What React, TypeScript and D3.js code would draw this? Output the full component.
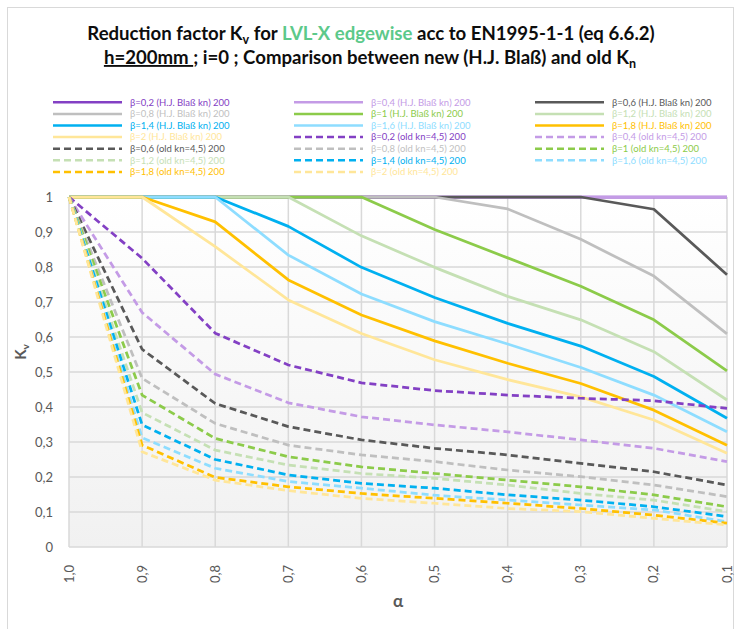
import React from "react";
import * as d3 from "d3";

const alphaLabels = ["1,0", "0,9", "0,8", "0,7", "0,6", "0,5", "0,4", "0,3", "0,2", "0,1"];
const betaLabels = ["0,2", "0,4", "0,6", "0,8", "1", "1,2", "1,4", "1,6", "1,8", "2"];
const yTicks = [0, 0.1, 0.2, 0.3, 0.4, 0.5, 0.6, 0.7, 0.8, 0.9, 1];

// H.J. Blaß kn (solid)
const newB02 = [1, 1, 1, 1, 1, 1, 1, 1, 1, 1];
const newB04 = [1, 1, 1, 1, 1, 1, 1, 1, 1, 1];
const newB06 = [1, 1, 1, 1, 1, 1, 1, 1, 0.965, 0.778];
const newB08 = [1, 1, 1, 1, 1, 1, 0.966, 0.879, 0.774, 0.609];
const newB10 = [1, 1, 1, 1, 1, 0.907, 0.826, 0.745, 0.649, 0.503];
const newB12 = [1, 1, 1, 1, 0.889, 0.799, 0.716, 0.649, 0.558, 0.42];
const newB14 = [1, 1, 1, 0.916, 0.799, 0.713, 0.639, 0.574, 0.487, 0.368];
const newB16 = [1, 1, 1, 0.834, 0.723, 0.644, 0.58, 0.513, 0.434, 0.329];
const newB18 = [1, 1, 0.929, 0.763, 0.663, 0.589, 0.525, 0.467, 0.391, 0.291];
const newB20 = [1, 1, 0.858, 0.706, 0.61, 0.535, 0.478, 0.429, 0.363, 0.268];

// old kn = 4,5 (dashed)
const oldB02 = [1, 0.825, 0.611, 0.52, 0.469, 0.447, 0.434, 0.425, 0.418, 0.396];
const oldB04 = [1, 0.67, 0.494, 0.412, 0.372, 0.349, 0.329, 0.306, 0.282, 0.244];
const oldB06 = [1, 0.565, 0.41, 0.344, 0.306, 0.282, 0.263, 0.239, 0.215, 0.177];
const oldB08 = [1, 0.482, 0.353, 0.291, 0.263, 0.244, 0.22, 0.201, 0.177, 0.144];
const oldB10 = [1, 0.434, 0.31, 0.258, 0.229, 0.21, 0.191, 0.172, 0.149, 0.115];
const oldB12 = [1, 0.384, 0.277, 0.234, 0.21, 0.196, 0.177, 0.153, 0.134, 0.101];
const oldB14 = [1, 0.349, 0.25, 0.206, 0.182, 0.168, 0.149, 0.134, 0.115, 0.087];
const oldB16 = [1, 0.312, 0.225, 0.187, 0.168, 0.148, 0.134, 0.12, 0.106, 0.072];
const oldB18 = [1, 0.291, 0.199, 0.172, 0.153, 0.139, 0.125, 0.11, 0.091, 0.068];
const oldB20 = [1, 0.272, 0.191, 0.161, 0.139, 0.125, 0.11, 0.101, 0.082, 0.063];

const newSeries = [newB02, newB04, newB06, newB08, newB10, newB12, newB14, newB16, newB18, newB20];
const oldSeries = [oldB02, oldB04, oldB06, oldB08, oldB10, oldB12, oldB14, oldB16, oldB18, oldB20];

const palette = ["#8340C4", "#C49BE6", "#595959", "#BFBFBF", "#8CCB4A", "#C5E0B4", "#00B0F0", "#8EDDFF", "#FFC000", "#FFE699"];

const FONT = "Lato, 'Open Sans', sans-serif";

export default function App() {
  const W = 736, H = 629;
  const left = 69, right = 727, top = 197, bottom = 547;
  const x = d3.scalePoint<number>().domain(d3.range(alphaLabels.length)).range([left, right]);
  const y = d3.scaleLinear().domain([0, 1]).range([bottom, top]);
  const lineGen = d3.line<number>().x((_, i) => x(i) as number).y((d) => y(d));

  const all = [
    ...newSeries.map((s, i) => ({ values: s, color: palette[i], dashed: false, label: `β=${betaLabels[i]} (H.J. Blaß kn) 200` })),
    ...oldSeries.map((s, i) => ({ values: s, color: palette[i], dashed: true, label: `β=${betaLabels[i]} (old kn=4,5) 200` })),
  ];

  const legendCols = [53, 294, 535];
  const legendRow0 = 102.3, legendRowH = 11.6;

  return (
    <svg width={W} height={H} style={{ position: "absolute", left: 0, top: 0, background: "#fff" }} fontFamily={FONT}>
      <defs>
        <linearGradient id="bg" x1="0" y1="0" x2="0" y2="1">
          <stop offset="0" stopColor="#ffffff" />
          <stop offset="1" stopColor="#f1f1f1" />
        </linearGradient>
      </defs>
      <rect x={7.5} y={7.5} width={726} height={640} fill="#fff" stroke="#d9d9d9" strokeWidth={1} />

      {/* Title */}
      <text x={371} y={39.5} textAnchor="middle" fontWeight="bold" fontSize={18.6} fill="#0d0d0d">
        Reduction factor K<tspan dy={4} fontSize={12.5}>v</tspan>
        <tspan dy={-4}> for </tspan>
        <tspan fill="#5CC98A">LVL-X edgewise</tspan>
        <tspan> acc to EN1995-1-1 (eq 6.6.2)</tspan>
      </text>
      <text x={370} y={64} textAnchor="middle" fontWeight="bold" fontSize={18.6} fill="#0d0d0d">
        <tspan textDecoration="underline">h=200mm </tspan>
        <tspan>; i=0 ; Comparison between new (H.J. Blaß) and old K</tspan>
        <tspan dy={4} fontSize={12.5}>n</tspan>
      </text>

      {/* Legend */}
      {all.map((s, i) => {
        const col = i % 3;
        const row = Math.floor(i / 3);
        const lx = legendCols[col];
        const ly = legendRow0 + row * legendRowH;
        return (
          <g key={"lg" + i}>
            <line x1={lx} x2={lx + 69} y1={ly} y2={ly} stroke={s.color} strokeWidth={2.5} strokeDasharray={s.dashed ? "7,4" : undefined} />
            <text x={lx + 77} y={ly + 3.3} fontSize={9.5} fill={s.color}>{s.label}</text>
          </g>
        );
      })}

      {/* Plot area */}
      <rect x={left} y={top} width={right - left} height={bottom - top} fill="url(#bg)" />
      {yTicks.map((t) => (
        <line key={"hy" + t} x1={left} x2={right} y1={y(t)} y2={y(t)} stroke="#d9d9d9" strokeWidth={1.5} />
      ))}
      {alphaLabels.map((_, i) => (
        <line key={"vx" + i} x1={x(i)} x2={x(i)} y1={top} y2={bottom} stroke="#d9d9d9" strokeWidth={1.5} />
      ))}

      {/* Y tick labels */}
      {yTicks.map((t) => (
        <text key={"yt" + t} x={53} y={y(t) + 4.5} textAnchor="end" fontSize={13} fill="#595959">
          {d3.format(".1~f")(t).replace(".", ",")}
        </text>
      ))}
      {/* X tick labels */}
      {alphaLabels.map((l, i) => (
        <text key={"xt" + i} transform={`translate(${(x(i) as number) + 4.5},${bottom + 18}) rotate(-90)`} textAnchor="end" fontSize={13} fill="#595959">
          {l}
        </text>
      ))}

      {/* Axis titles */}
      <text transform={`translate(26,352) rotate(-90)`} textAnchor="middle" fontSize={15} fontWeight="bold" fill="#595959">
        K<tspan dy={3} fontSize={10}>v</tspan>
      </text>
      <text x={398} y={607} textAnchor="middle" fontSize={17} fontWeight="bold" fill="#595959">α</text>

      {/* Series */}
      {all.map((s, i) => (
        <path key={"s" + i} d={lineGen(s.values) as string} fill="none" stroke={s.color} strokeWidth={2.75}
          strokeDasharray={s.dashed ? "7,4" : undefined} strokeLinejoin="round" />
      ))}
    </svg>
  );
}
